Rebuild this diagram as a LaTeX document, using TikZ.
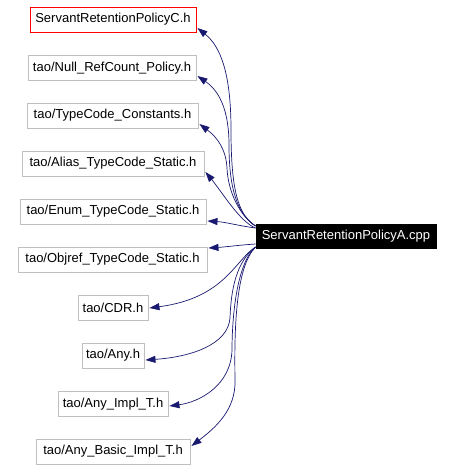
\documentclass[tikz,border=0pt]{standalone}
\usepackage{fontspec}
\setmainfont{Liberation Sans}
\usetikzlibrary{arrows.meta}
\definecolor{navy}{HTML}{191970}
\definecolor{boxgray}{HTML}{BFBFBF}
\begin{document}
\begin{tikzpicture}[x=1pt,y=-1pt,
  file/.style={draw=boxgray, fill=white, line width=0.9pt, inner sep=0pt, minimum height=25pt, font=\fontsize{13}{15}\selectfont, text=black},
  mainfile/.style={file, draw=black, fill=black, text=white},
  redfile/.style={file, draw=red},
  edge/.style={draw=navy, line width=0.7pt, -{Triangle[length=10pt,width=7pt]}}]
\useasboundingbox (0,0) rectangle (454,470);
\node[redfile, minimum width=166pt] (n1) at (113,19.5) {ServantRetentionPolicyC.h};
\node[file, minimum width=168pt] (n2) at (112,68) {tao/Null\_RefCount\_Policy.h};
\node[file, minimum width=171pt] (n3) at (112.5,115.5) {tao/TypeCode\_Constants.h};
\node[file, minimum width=182pt] (n4) at (113,163.5) {tao/Alias\_TypeCode\_Static.h};
\node[file, minimum width=186pt] (n5) at (113,211.5) {tao/Enum\_TypeCode\_Static.h};
\node[file, minimum width=189pt] (n6) at (112.5,259.5) {tao/Objref\_TypeCode\_Static.h};
\node[file, minimum width=70pt] (n7) at (113,307.5) {tao/CDR.h};
\node[file, minimum width=62pt] (n8) at (113,355.5) {tao/Any.h};
\node[file, minimum width=110pt] (n9) at (113,404) {tao/Any\_Impl\_T.h};
\node[file, minimum width=154pt] (n10) at (113,451.5) {tao/Any\_Basic\_Impl\_T.h};
\node[mainfile, minimum width=180pt, minimum height=24pt] (m) at (346,236) {ServantRetentionPolicyA.cpp};

\draw[edge] ([shift={(0,-10)}]m.west) .. controls (238,215) and (231,190) .. (231,130) .. controls (231,72) and (220,46) .. ([shift={(1,8.5)}]n1.east);
\draw[edge] ([shift={(0,-10)}]m.west) .. controls (238,215) and (229,190) .. (229,145) .. controls (229,108) and (218,90) .. ([shift={(1,8)}]n2.east);
\draw[edge] ([shift={(0,-10)}]m.west) .. controls (240,216) and (228,192) .. (227,168) .. controls (226,150) and (218,138) .. ([shift={(1,8.5)}]n3.east);
\draw[edge] ([shift={(0,-8)}]m.west) .. controls (240,222) and (222,192) .. ([shift={(1,8.5)}]n4.east);
\draw[edge] ([shift={(0,-8)}]m.west) .. controls (240,226) and (225,222) .. ([shift={(1,9.5)}]n5.east);
\draw[edge] ([shift={(0,8)}]m.west) .. controls (240,245) and (225,247) .. ([shift={(1,-11.5)}]n6.east);
\draw[edge] ([shift={(0,11)}]m.west) .. controls (235,260) and (225,298) .. ([shift={(1,0.5)}]n7.east);
\draw[edge] ([shift={(0,11)}]m.west) .. controls (236,262) and (231,290) .. (230,318) .. controls (228,345) and (190,357) .. ([shift={(1,4.5)}]n8.east);
\draw[edge] ([shift={(0,11)}]m.west) .. controls (236,264) and (232,320) .. (232,350) .. controls (231,385) and (200,402) .. ([shift={(1,2)}]n9.east);
\draw[edge] ([shift={(0,11)}]m.west) .. controls (237,266) and (234,320) .. (235,380) .. controls (236,410) and (215,428) .. ([shift={(1,-5.5)}]n10.east);
\end{tikzpicture}
\end{document}
